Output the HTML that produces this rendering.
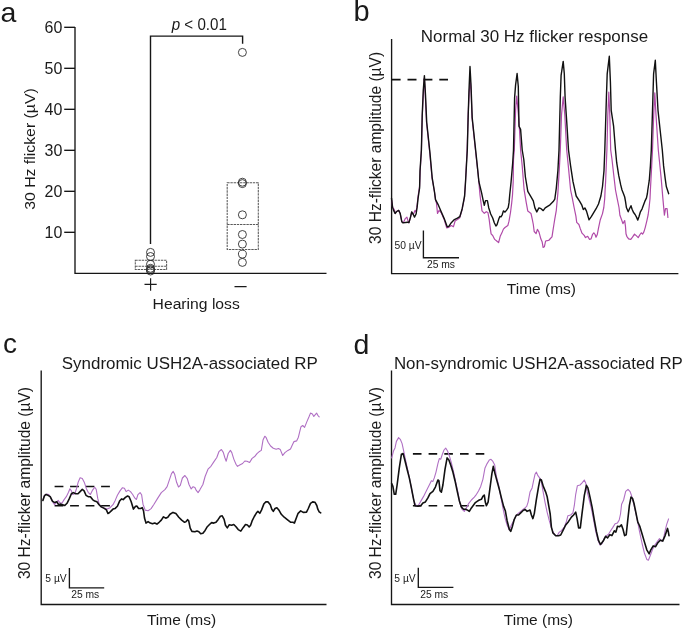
<!DOCTYPE html><html><head><meta charset="utf-8"><style>html,body{margin:0;padding:0;background:#fff;width:685px;height:630px;overflow:hidden}svg{display:block;will-change:transform}text{font-family:"Liberation Sans",sans-serif;fill:#1a1a1a}</style></head><body>
<svg width="685" height="630" viewBox="0 0 685 630">
<text x="0.6" y="21.5" font-size="28.5">a</text>
<text x="353.5" y="21.3" font-size="29">b</text>
<text x="2.9" y="353.4" font-size="28">c</text>
<text x="353.6" y="353.6" font-size="28.5">d</text>
<path d="M75 27V273.3H326.5" stroke="#161616" stroke-width="1.35" fill="none"/>
<path d="M64.2 232.3H75" stroke="#161616" stroke-width="1.35" fill="none"/>
<text x="62.4" y="238.1" font-size="15.6" text-anchor="end" textLength="17.8" lengthAdjust="spacingAndGlyphs">10</text>
<path d="M64.2 191.3H75" stroke="#161616" stroke-width="1.35" fill="none"/>
<text x="62.4" y="197.1" font-size="15.6" text-anchor="end" textLength="17.8" lengthAdjust="spacingAndGlyphs">20</text>
<path d="M64.2 150.3H75" stroke="#161616" stroke-width="1.35" fill="none"/>
<text x="62.4" y="156.1" font-size="15.6" text-anchor="end" textLength="17.8" lengthAdjust="spacingAndGlyphs">30</text>
<path d="M64.2 109.3H75" stroke="#161616" stroke-width="1.35" fill="none"/>
<text x="62.4" y="115.1" font-size="15.6" text-anchor="end" textLength="17.8" lengthAdjust="spacingAndGlyphs">40</text>
<path d="M64.2 68.3H75" stroke="#161616" stroke-width="1.35" fill="none"/>
<text x="62.4" y="74.1" font-size="15.6" text-anchor="end" textLength="17.8" lengthAdjust="spacingAndGlyphs">50</text>
<path d="M64.2 27.3H75" stroke="#161616" stroke-width="1.35" fill="none"/>
<text x="62.4" y="33.1" font-size="15.6" text-anchor="end" textLength="17.8" lengthAdjust="spacingAndGlyphs">60</text>
<path d="M150.5 244V36.1H242.6V43.7" stroke="#161616" stroke-width="1.4" fill="none"/>
<text x="199.3" y="30" font-size="15.8" text-anchor="middle" textLength="55.2" lengthAdjust="spacingAndGlyphs"><tspan font-style="italic">p</tspan> &lt; 0.01</text>
<rect x="135.3" y="260.2" width="31.3" height="9.3" stroke="#5a5a5a" stroke-width="1.05" fill="none" stroke-dasharray="2.4 0.8"/>
<path d="M135.3 266.2H166.6" stroke="#5a5a5a" stroke-width="1.05" fill="none" stroke-dasharray="2.4 0.8"/>
<rect x="227.2" y="182.7" width="31.1" height="66.7" stroke="#5a5a5a" stroke-width="1.05" fill="none" stroke-dasharray="2.4 0.8"/>
<path d="M227.2 224.4H258.3" stroke="#5a5a5a" stroke-width="1.05" fill="none" stroke-dasharray="2.4 0.8"/>
<circle cx="150.5" cy="252.4" r="4" stroke="#222" stroke-width="0.85" fill="none"/>
<circle cx="150.5" cy="256.5" r="4" stroke="#222" stroke-width="0.85" fill="none"/>
<circle cx="150.5" cy="264.3" r="4" stroke="#222" stroke-width="0.85" fill="none"/>
<circle cx="150.5" cy="268.3" r="4" stroke="#222" stroke-width="0.85" fill="none"/>
<circle cx="150.5" cy="269.6" r="4" stroke="#222" stroke-width="0.85" fill="none"/>
<circle cx="150.5" cy="271.0" r="4" stroke="#222" stroke-width="0.85" fill="none"/>
<circle cx="242.4" cy="52.4" r="4" stroke="#222" stroke-width="0.85" fill="none"/>
<circle cx="242.4" cy="182.2" r="4" stroke="#222" stroke-width="0.85" fill="none"/>
<circle cx="242.4" cy="183.6" r="4" stroke="#222" stroke-width="0.85" fill="none"/>
<circle cx="242.4" cy="214.8" r="4" stroke="#222" stroke-width="0.85" fill="none"/>
<circle cx="242.4" cy="234.5" r="4" stroke="#222" stroke-width="0.85" fill="none"/>
<circle cx="242.4" cy="244.1" r="4" stroke="#222" stroke-width="0.85" fill="none"/>
<circle cx="242.4" cy="254.2" r="4" stroke="#222" stroke-width="0.85" fill="none"/>
<circle cx="242.4" cy="262.4" r="4" stroke="#222" stroke-width="0.85" fill="none"/>
<path d="M144.5 284.3H156.7M150.6 278.3V290.7M234.5 286.6H246.6" stroke="#1a1a1a" stroke-width="1.15"/>
<text x="196.2" y="309" font-size="15.3" text-anchor="middle" textLength="87.2" lengthAdjust="spacingAndGlyphs">Hearing loss</text>
<text transform="translate(35.1 149.05) rotate(-90)" font-size="15.5" text-anchor="middle" textLength="121.5" lengthAdjust="spacingAndGlyphs">30 Hz flicker (µV)</text>
<path d="M391.6 39V273.6H678.4" stroke="#161616" stroke-width="1.35" fill="none"/>
<text x="534.5" y="42.0" font-size="16.7" text-anchor="middle" textLength="227.3" lengthAdjust="spacingAndGlyphs">Normal 30 Hz flicker response</text>
<text transform="translate(381.1 147.9) rotate(-90)" font-size="15.7" text-anchor="middle" textLength="192" lengthAdjust="spacingAndGlyphs">30 Hz-flicker amplitude (µV)</text>
<path d="M423.4 230.5V257.7H459" stroke="#161616" stroke-width="1.35" fill="none"/>
<text x="408.1" y="248.9" font-size="10.3" text-anchor="middle">50 µV</text>
<text x="441" y="268.2" font-size="10.3" text-anchor="middle">25 ms</text>
<text x="541.4" y="294.3" font-size="15.5" text-anchor="middle">Time (ms)</text>
<path d="M41.2 370.4V604.5H326.5" stroke="#161616" stroke-width="1.35" fill="none"/>
<text x="189.85" y="368.8" font-size="16.7" text-anchor="middle" textLength="256.1" lengthAdjust="spacingAndGlyphs">Syndromic USH2A-associated RP</text>
<text transform="translate(30.2 483.1) rotate(-90)" font-size="15.7" text-anchor="middle" textLength="192" lengthAdjust="spacingAndGlyphs">30 Hz-flicker amplitude (µV)</text>
<path d="M69.4 568V587.8H104.2" stroke="#161616" stroke-width="1.35" fill="none"/>
<text x="56" y="582" font-size="10.3" text-anchor="middle">5 µV</text>
<text x="85.2" y="598.2" font-size="10.3" text-anchor="middle">25 ms</text>
<text x="181.5" y="625" font-size="15.5" text-anchor="middle">Time (ms)</text>
<path d="M391.5 370.4V604.5H679.5" stroke="#161616" stroke-width="1.35" fill="none"/>
<text x="538.4" y="369.0" font-size="16.7" text-anchor="middle" textLength="289" lengthAdjust="spacingAndGlyphs">Non-syndromic USH2A-associated RP</text>
<text transform="translate(381.1 483.0) rotate(-90)" font-size="15.7" text-anchor="middle" textLength="192" lengthAdjust="spacingAndGlyphs">30 Hz-flicker amplitude (µV)</text>
<path d="M418.3 567.7V587.3H453.4" stroke="#161616" stroke-width="1.35" fill="none"/>
<text x="405" y="581.7" font-size="10.3" text-anchor="middle">5 µV</text>
<text x="434.2" y="597.8" font-size="10.3" text-anchor="middle">25 ms</text>
<text x="538.4" y="625" font-size="15.5" text-anchor="middle">Time (ms)</text>
<path d="M391.6 79.6H448" stroke="#101010" stroke-width="1.6" stroke-dasharray="9 6.9" fill="none"/>
<path d="M54.6 486.5H110.5M54.6 505.8H110.5" stroke="#101010" stroke-width="1.6" stroke-dasharray="8.8 6.7" fill="none"/>
<path d="M412.9 453.9H484.5M412.9 505.8H484.5" stroke="#101010" stroke-width="1.6" stroke-dasharray="8.6 7.1" fill="none"/>
<path d="M391.6 200.0 392.6 207.4 393.1 207.9 394.5 210.0 395.1 213.5 396.6 211.5 398.7 210.4 400.2 213.5 401.8 221.7 403.3 222.7 404.3 220.7 405.3 218.6 406.9 217.1 407.9 220.5 408.9 222.7 410.4 217.6 411.7 212.0 413.3 214.5 415.0 210.4 416.1 212.0 417.1 205.0 418.1 196.0 419.6 186.0 420.2 171.0 421.4 150.0 422.3 115.6 423.5 90.0 424.3 78.0 425.3 95.0 426.5 122.2 429.8 153.3 432.0 177.8 434.5 192.0 435.5 199.7 436.5 203.3 437.5 213.5 439.0 210.4 441.1 212.5 444.2 219.6 446.7 227.8 448.8 227.3 451.3 225.5 453.4 226.8 455.1 221.0 457.8 219.3 459.8 217.7 462.0 210.0 464.4 198.0 465.4 184.0 467.1 150.0 468.1 115.6 469.2 93.0 470.3 80.0 471.2 93.3 472.0 117.8 476.5 160.0 478.1 173.8 480.0 195.0 481.2 204.5 482.0 210.9 484.3 213.3 486.3 211.7 487.9 212.5 489.1 218.8 490.3 228.3 491.1 233.9 492.7 235.5 494.7 239.4 496.7 241.0 498.6 242.6 500.2 236.3 501.8 233.1 503.4 229.1 505.0 227.5 507.8 225.6 509.0 221.2 510.5 212.5 511.7 202.9 512.5 195.0 513.2 181.7 513.5 159.5 514.3 150.0 515.6 110.0 516.7 96.0 518.3 113.5 519.5 130.0 520.6 150.0 522.2 165.9 524.1 189.7 526.2 202.4 527.8 211.1 531.0 213.5 532.3 219.4 533.3 224.5 534.2 231.5 536.1 233.7 537.4 229.3 539.0 232.1 540.9 239.1 542.1 241.7 543.1 247.4 544.4 246.7 545.6 241.0 547.2 240.7 549.1 240.1 550.4 238.5 552.0 236.9 552.9 230.9 553.9 224.5 554.8 218.8 556.3 210.3 557.9 192.9 559.5 165.9 560.3 150.0 561.5 115.0 563.2 96.8 564.8 115.0 566.7 150.0 568.3 165.9 570.6 190.0 572.4 198.7 574.1 207.5 575.9 216.2 576.7 222.3 578.9 224.5 580.2 228.4 582.0 233.2 584.2 235.4 585.5 237.6 587.7 236.3 589.4 239.3 591.1 238.9 592.5 234.5 593.8 232.8 595.1 234.5 596.0 237.2 597.3 234.5 598.6 227.6 600.3 219.7 602.5 213.6 603.8 207.5 604.7 198.7 605.1 190.0 605.6 181.7 606.9 150.0 607.8 115.0 608.8 92.0 609.8 115.0 610.7 150.0 612.0 159.5 613.6 173.8 615.5 190.0 617.2 198.7 619.0 207.5 619.9 215.3 621.6 219.7 622.9 223.6 624.7 220.6 625.5 226.7 626.0 233.7 626.8 236.3 628.6 238.9 630.8 239.3 632.5 237.2 634.5 234.1 636.5 235.9 638.2 237.6 640.0 234.5 641.3 232.8 642.6 234.1 643.9 231.9 645.2 227.6 646.9 220.6 648.2 214.5 649.1 207.5 650.0 198.7 650.4 190.0 651.7 165.9 652.5 150.0 653.7 115.0 654.8 92.9 656.0 115.0 658.3 150.0 659.6 162.7 661.2 178.6 662.8 197.6 664.4 215.1 665.5 208.7 667.1 208.7 667.9 217.5" stroke="#b04aa8" stroke-width="1.2" stroke-linejoin="round" stroke-linecap="round" fill="none"/>
<path d="M391.5 198.2 392.6 207.4 393.6 210.4 395.1 213.5 396.6 211.5 398.7 210.4 400.2 213.5 401.8 221.7 402.8 222.7 405.3 222.5 407.9 222.2 408.9 222.7 410.4 217.6 411.7 212.0 413.3 214.5 414.5 217.1 416.1 214.0 417.1 207.4 418.1 198.2 419.6 188.0 420.0 171.0 421.4 150.0 422.2 115.6 423.3 90.0 424.4 75.6 425.5 95.0 426.7 122.2 430.0 153.3 432.2 177.8 434.5 192.0 435.5 199.7 438.0 204.3 441.1 211.5 444.2 218.6 447.2 226.8 448.8 226.3 451.3 222.7 454.4 219.6 457.4 218.1 459.8 216.7 462.2 208.7 464.6 196.0 465.5 182.2 467.3 150.0 468.2 115.6 469.0 90.0 470.0 66.5 471.0 85.0 472.2 117.8 476.7 160.0 478.9 181.7 481.6 192.9 483.2 200.6 484.3 205.3 485.5 200.6 487.4 200.6 488.7 207.7 490.7 214.0 492.7 218.0 494.3 222.8 495.9 226.0 497.0 224.8 498.6 219.6 499.8 216.4 501.0 216.8 502.2 214.8 503.4 210.9 505.0 212.1 506.6 210.1 508.2 207.7 509.0 202.9 509.7 195.0 511.1 181.7 512.7 162.7 513.5 150.0 514.6 97.6 515.6 84.9 517.1 73.5 518.3 86.5 519.0 126.2 520.6 129.4 522.2 150.0 523.8 159.5 525.4 177.0 527.8 191.3 531.0 196.8 533.3 200.8 534.9 207.9 536.8 211.9 538.9 207.9 541.0 208.7 543.2 210.6 545.2 207.9 547.6 206.3 550.0 204.8 553.2 201.6 554.8 199.2 556.3 188.1 557.9 170.6 559.0 150.0 560.3 97.6 561.1 75.4 563.2 61.4 564.3 73.8 565.1 97.6 566.7 121.4 568.5 150.0 570.6 165.9 573.0 181.7 576.2 196.0 579.4 200.8 581.7 204.8 583.3 209.5 584.9 207.9 586.5 211.1 589.0 219.8 591.3 216.7 593.7 212.7 596.1 208.7 598.5 204.0 600.9 196.0 602.5 186.5 604.0 170.6 604.8 150.0 606.4 97.6 607.2 73.8 609.3 56.3 610.4 81.7 611.2 110.3 613.6 126.2 615.5 150.0 616.7 162.7 618.7 175.4 620.7 184.9 622.0 190.0 623.4 193.5 624.7 197.0 625.5 201.4 626.4 207.5 628.2 211.8 629.5 208.8 631.0 205.7 632.1 209.2 633.4 212.3 635.1 214.5 636.5 217.1 637.8 220.1 639.1 216.2 640.4 211.8 642.1 208.8 643.4 205.3 644.8 201.4 646.5 197.9 647.4 193.5 647.8 190.0 649.3 180.2 650.4 165.9 651.3 150.0 652.9 97.6 653.6 73.8 655.3 60.3 656.4 81.7 658.0 110.3 660.4 132.5 662.3 150.0 663.6 165.9 665.2 178.6 666.3 186.5 668.7 193.7" stroke="#111" stroke-width="1.4" stroke-linejoin="round" stroke-linecap="round" fill="none"/>
<path d="M42.9 499.6 44.4 495.3 46.6 494.1 48.8 494.5 51.0 498.2 53.1 502.6 54.6 504.7 56.8 501.8 58.2 500.4 59.7 502.6 61.9 503.3 64.1 499.6 66.3 496.7 68.5 492.3 69.9 488.7 71.4 490.9 72.8 494.5 74.7 493.8 76.5 488.7 78.2 482.1 80.1 477.7 82.3 478.5 84.5 482.8 86.4 488.7 88.2 492.3 90.4 494.5 92.6 490.1 94.7 487.2 96.2 489.4 97.7 498.2 99.1 504.0 101.3 506.9 104.2 508.1 107.2 509.1 110.1 507.7 113.0 504.7 115.2 500.4 117.4 495.3 120.0 490.9 122.5 487.7 124.4 488.2 126.1 491.6 128.3 490.1 130.5 491.6 132.7 494.5 134.9 498.2 136.4 499.5 137.9 494.7 140.1 492.6 141.6 494.7 143.0 504.2 145.2 510.1 148.1 510.8 151.1 508.6 154.0 504.2 157.6 498.4 161.3 492.6 164.9 489.6 167.1 486.7 169.3 480.1 171.5 473.6 173.2 471.4 174.7 474.3 176.6 482.3 178.5 487.0 180.3 485.3 182.4 478.0 184.9 475.5 187.3 478.7 189.0 484.5 191.2 488.9 193.1 486.7 194.9 487.4 196.3 490.4 198.1 492.6 200.0 489.6 202.9 484.5 205.1 476.5 208.0 469.2 210.9 466.3 213.8 461.9 216.8 457.5 218.9 451.7 221.4 449.5 223.3 452.4 224.8 457.5 226.2 461.2 228.2 453.5 230.4 450.4 231.8 452.6 233.8 459.1 236.0 464.2 237.5 466.4 239.7 465.0 242.6 463.5 244.8 461.0 247.0 461.3 249.6 462.5 252.1 458.4 255.0 456.2 257.2 453.3 259.0 451.8 261.3 450.4 263.0 440.1 264.8 436.2 266.2 437.7 268.1 442.3 270.6 446.0 273.3 448.2 276.2 449.3 278.4 448.5 280.3 449.6 282.7 455.5 284.9 452.6 287.9 450.4 290.5 448.9 292.2 445.3 294.0 441.6 296.6 440.9 298.4 437.2 299.8 431.4 301.0 426.7 302.7 425.5 304.6 427.4 306.8 421.9 309.0 416.8 310.5 413.1 312.4 413.9 313.8 416.4 315.3 414.6 316.6 413.1 317.8 415.3 319.2 416.8" stroke="#b070c4" stroke-width="1.1" stroke-linejoin="round" stroke-linecap="round" fill="none"/>
<path d="M42.9 500.4 44.4 496.0 45.8 494.5 48.0 495.3 50.2 496.7 52.4 501.1 54.6 502.6 56.8 501.8 58.7 504.7 60.4 504.0 62.6 504.7 64.8 505.5 67.0 503.3 69.2 498.9 71.4 493.8 73.3 492.6 75.8 493.8 78.0 493.8 80.1 491.6 82.3 489.4 84.1 490.9 86.0 495.3 88.2 496.7 90.4 496.7 92.6 499.6 94.7 501.1 96.9 501.8 99.1 504.7 101.3 506.9 104.2 508.4 106.4 509.9 107.9 513.5 109.3 512.8 111.5 510.6 113.0 509.1 115.2 508.4 117.4 506.2 119.6 501.1 121.5 498.9 123.2 499.6 125.4 497.4 127.6 496.0 129.1 496.7 131.2 501.8 133.4 509.1 135.6 506.2 136.8 506.0 138.6 508.5 140.5 508.5 142.3 507.7 143.5 510.7 144.5 518.0 146.0 523.1 148.1 521.6 150.3 523.1 152.5 523.8 154.7 523.1 156.9 524.1 159.1 522.3 161.3 520.1 163.5 516.8 165.7 518.2 167.8 517.2 170.0 514.3 173.0 512.4 175.9 513.6 178.8 517.2 181.7 520.1 184.6 522.3 186.1 521.6 187.6 519.7 188.7 520.9 190.2 528.2 191.9 531.4 194.9 531.8 197.0 531.1 198.9 531.8 200.7 533.7 202.9 533.3 205.1 530.4 207.3 526.7 209.5 524.5 211.6 522.6 213.8 523.1 216.0 522.3 218.2 519.4 220.4 516.2 222.2 515.8 224.1 519.4 225.5 525.3 227.3 527.9 229.3 524.7 231.6 525.3 233.8 524.5 236.0 526.7 238.2 529.6 240.8 531.1 243.3 527.4 245.5 524.5 247.4 525.0 249.2 527.0 250.6 525.3 252.1 520.9 254.3 516.5 256.5 512.8 257.9 511.4 259.8 513.3 261.6 509.9 263.8 504.1 265.7 501.9 268.1 501.9 270.3 504.8 271.8 509.2 273.3 511.4 275.0 508.5 276.9 507.7 278.8 509.9 281.3 514.3 284.2 517.2 287.9 520.1 290.8 522.3 293.0 522.3 294.4 523.1 296.6 517.2 298.1 513.3 300.7 510.9 303.2 512.4 306.5 512.1 308.3 508.5 310.5 503.4 312.7 501.9 314.9 502.2 316.8 505.5 317.8 509.2 319.2 511.8 320.7 512.8" stroke="#111" stroke-width="1.6" stroke-linejoin="round" stroke-linecap="round" fill="none"/>
<path d="M391.7 457.9 393.6 450.7 395.0 447.9 396.4 441.4 398.6 437.6 400.3 439.3 402.1 443.6 403.6 450.7 405.7 460.7 407.9 470.7 410.0 480.7 412.1 492.1 414.3 502.1 416.4 506.1 418.6 505.0 420.7 501.4 423.6 496.4 426.4 490.7 429.3 485.0 431.4 480.7 432.9 481.4 434.3 477.9 436.0 472.1 437.9 463.6 439.3 458.6 440.7 459.3 442.1 455.0 444.0 450.0 445.7 448.1 447.4 450.7 449.3 455.7 451.4 462.9 453.6 472.1 455.7 482.1 457.9 492.1 460.0 503.6 462.1 509.3 464.3 511.4 466.4 507.9 468.6 503.6 471.4 500.0 474.3 497.1 476.5 494.3 478.5 491.0 480.7 486.4 482.9 479.3 485.0 467.9 487.1 463.6 489.3 460.0 491.0 459.3 492.9 461.4 494.7 465.0 496.4 476.4 498.6 485.0 500.7 496.4 502.9 507.9 505.0 517.9 507.1 525.0 509.3 530.0 511.4 525.0 513.6 520.7 515.7 516.4 517.9 513.6 520.7 511.4 523.3 509.3 525.0 507.9 526.7 506.4 528.1 502.1 530.0 492.1 532.1 487.9 533.6 480.7 535.0 474.3 536.4 472.1 537.9 475.7 539.6 477.9 541.0 480.0 542.9 490.7 545.0 502.1 547.1 512.1 549.3 520.7 551.4 527.9 553.6 532.9 555.5 535.5 557.1 535.7 559.3 532.1 561.4 530.7 564.3 527.1 566.4 521.4 567.9 515.7 570.7 515.0 572.9 512.9 574.3 505.7 575.7 494.3 577.4 485.7 580.0 485.0 582.1 482.9 584.3 480.0 585.7 482.9 587.1 491.4 589.3 500.0 591.4 508.6 593.6 520.0 595.7 531.4 597.9 540.0 600.0 545.0 602.1 543.6 604.3 537.9 606.4 535.7 608.5 534.2 610.6 530.8 612.7 527.6 615.1 523.7 617.5 522.9 619.2 520.0 620.5 514.0 621.6 504.3 623.6 500.0 625.7 491.4 628.0 489.3 630.1 491.6 631.6 495.8 633.4 502.5 635.3 511.0 637.6 521.5 639.7 532.4 642.1 543.5 644.4 553.0 646.8 559.4 648.4 560.2 650.0 556.2 652.4 549.8 654.8 545.1 657.1 541.9 659.5 538.7 661.9 541.1 663.5 538.7 665.1 530.8 666.7 524.4 668.6 518.9" stroke="#b070c4" stroke-width="1.1" stroke-linejoin="round" stroke-linecap="round" fill="none"/>
<path d="M391.7 483.6 392.9 486.4 394.3 494.3 395.7 494.3 397.1 485.0 399.3 467.9 401.4 454.3 403.1 453.6 405.0 460.7 407.1 469.3 409.3 477.9 411.4 487.9 413.6 499.3 415.0 505.7 417.9 506.1 420.7 505.7 422.9 502.9 425.4 501.9 427.9 497.9 430.0 493.6 432.9 491.4 435.4 487.1 437.9 480.0 438.9 480.7 440.0 490.7 441.4 492.1 442.9 485.0 445.0 469.3 447.1 457.9 448.9 460.0 450.7 465.0 452.9 472.1 455.0 480.7 457.1 490.7 459.3 500.7 461.4 507.1 463.6 509.3 465.7 509.3 467.9 510.4 469.3 511.4 471.4 507.9 473.6 505.0 475.4 502.6 477.5 501.2 479.3 500.0 481.4 499.3 482.9 496.4 484.3 495.0 485.3 502.1 486.4 505.7 488.1 502.1 490.0 487.9 491.9 473.6 493.3 466.4 495.0 473.6 497.1 481.4 499.3 489.3 501.4 497.9 503.6 506.4 505.3 510.7 507.1 520.7 509.3 529.3 510.7 531.4 512.4 526.4 514.3 519.3 516.4 515.0 518.6 515.0 520.7 512.9 522.9 510.7 525.0 509.3 527.1 511.4 530.0 510.0 531.4 515.0 532.9 518.6 534.3 513.6 536.4 499.3 538.6 486.4 540.0 479.3 541.4 480.0 543.3 486.4 545.7 492.1 547.1 496.4 548.6 505.0 550.2 514.0 551.4 527.1 552.9 532.9 555.7 535.7 558.6 535.7 560.7 535.0 562.9 530.7 565.7 525.0 568.6 521.4 571.4 517.1 573.6 515.0 575.7 512.1 577.1 518.6 578.6 527.9 580.3 527.9 582.1 512.9 584.3 495.7 586.4 485.4 587.9 487.9 590.0 497.1 592.1 507.1 594.3 520.0 596.4 531.4 598.6 540.7 600.5 544.5 603.2 541.1 605.6 536.3 607.6 537.9 609.8 534.8 611.9 535.6 614.3 530.8 615.9 532.1 617.5 526.3 619.4 526.8 621.4 524.9 623.0 529.2 624.6 535.6 626.2 534.8 627.8 519.7 629.4 505.4 631.0 497.1 632.5 498.3 634.1 503.8 635.7 511.7 637.8 522.1 639.7 526.0 642.1 534.0 644.4 541.9 646.8 549.8 649.2 553.8 650.8 549.8 653.2 545.9 655.6 546.7 657.9 542.7 660.3 540.3 662.7 541.1 665.1 535.6 667.5 528.4 668.3 531.6 669.0 535.6" stroke="#111" stroke-width="1.6" stroke-linejoin="round" stroke-linecap="round" fill="none"/>
</svg></body></html>
